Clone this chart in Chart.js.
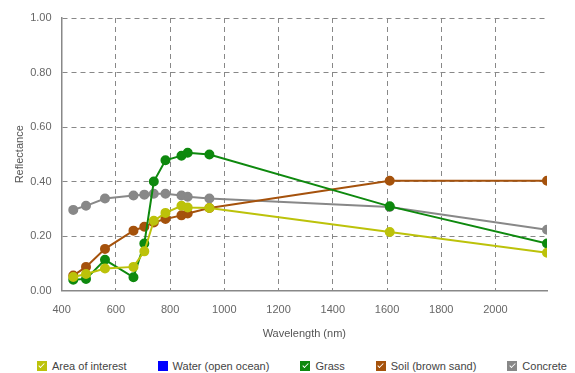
<!DOCTYPE html>
<html>
<head>
<meta charset="utf-8">
<script src="https://cdn.jsdelivr.net/npm/chart.js@4.4.1/dist/chart.umd.min.js"></script>
<style>
  html, body { margin: 0; padding: 0; background: #fff; overflow: hidden; }
  #wrap { position: relative; width: 575px; height: 345px; }
  #legend { position: absolute; left: 37px; top: 359px; display: flex; font: 11px "Liberation Sans", Arial, sans-serif; color: #444; white-space: nowrap; line-height: 14px; }
  .lg-item { display: flex; align-items: center; margin-right: 31px; cursor: pointer; }
  .lg-box { width: 10px; height: 10px; margin-right: 5px; position: relative; }
  .lg-box.on::after { content: ''; position: absolute; left: 3.2px; top: 0.8px; width: 2.2px; height: 5px; border: solid #fff; border-width: 0 1.5px 1.5px 0; transform: rotate(45deg); }
</style>
</head>
<body>
<div id="wrap"><canvas id="spectra"></canvas></div>
<div id="legend"></div>
<script>
//Sentinel-2 band centres (nm)
var wavelengths = [443, 490, 560, 665, 705, 740, 783, 842, 865, 945, 1610, 2190];

//Reflectance per band
var areaOfInterest = [0.050, 0.061, 0.081, 0.087, 0.144, 0.256, 0.285, 0.311, 0.305, 0.303, 0.215, 0.139];
var water = []; //switched off in the legend, nothing drawn
var grass = [0.040, 0.043, 0.113, 0.049, 0.173, 0.400, 0.478, 0.495, 0.506, 0.499, 0.309, 0.173];
var soil = [0.055, 0.087, 0.153, 0.220, 0.234, 0.250, 0.263, 0.276, 0.283, 0.303, 0.403, 0.403];
var concrete = [0.296, 0.311, 0.338, 0.349, 0.352, 0.355, 0.355, 0.349, 0.344, 0.338, 0.307, 0.223];

var names = ['Area of interest', 'Water (open ocean)', 'Grass', 'Soil (brown sand)', 'Concrete'];
var colors = ['#bcc20a', '#0000ff', '#0e890e', '#a5520c', '#888888'];
var series = [areaOfInterest, water, grass, soil, concrete];
var hiddenFlags = [false, true, false, false, false];

var xTicks = [400, 600, 800, 1000, 1200, 1400, 1600, 1800, 2000];

var font = { family: '"Liberation Sans", Arial, sans-serif', size: 11 };
var gridStyle = { color: '#888', lineWidth: 1, drawTicks: false, tickLength: 0 };

var datasets = series.map(function (values, i) {
    return {
        label: names[i],
        data: values.map(function (v, k) { return { x: wavelengths[k], y: v }; }),
        borderColor: colors[i],
        backgroundColor: colors[i],
        pointBackgroundColor: colors[i],
        pointBorderColor: colors[i],
        borderWidth: 2,
        pointRadius: 4,
        pointHoverRadius: 5,
        tension: 0,
        hidden: hiddenFlags[i]
    };
});

var ctx = document.getElementById('spectra').getContext('2d');
var chart = new Chart(ctx, {
    type: 'line',
    data: { datasets: datasets },
    options: {
        responsive: true,
        maintainAspectRatio: false,
        animation: false,
        layout: { padding: { left: 6, right: 28, top: 18, bottom: 0 } },
        plugins: {
            legend: { display: false }
        },
        scales: {
            x: {
                type: 'linear',
                min: 400,
                max: 2190,
                afterBuildTicks: function (scale) {
                    scale.ticks = xTicks.map(function (v) { return { value: v }; });
                },
                ticks: { font: font, color: '#666', padding: 13,
                    callback: function (v) { return String(v); } },
                grid: gridStyle,
                border: { display: true, color: '#888', width: 1.5, dash: [5, 4] },
                title: { display: true, text: 'Wavelength (nm)', font: font, color: '#555', padding: { top: -2, bottom: 4 } }
            },
            y: {
                min: 0,
                max: 1,
                ticks: { stepSize: 0.2, font: font, color: '#666', padding: 10,
                    callback: function (v) { return v.toFixed(2); } },
                grid: gridStyle,
                border: { display: true, color: '#888', width: 1.5, dash: [5, 4] },
                title: { display: true, text: 'Reflectance', font: font, color: '#555', padding: { top: 7, bottom: -6 } }
            }
        }
    }
});

//HTML legend with check boxes
var legend = document.getElementById('legend');
function drawLegend() {
    legend.innerHTML = '';
    chart.data.datasets.forEach(function (ds, i) {
        var item = document.createElement('div');
        item.className = 'lg-item';
        var on = chart.isDatasetVisible(i);
        item.innerHTML = '<span class="lg-box' + (on ? ' on' : '') + '" style="background:' + ds.borderColor + '"></span>' + ds.label;
        item.onclick = function () {
            chart.setDatasetVisibility(i, !chart.isDatasetVisible(i));
            chart.update();
            drawLegend();
        };
        legend.appendChild(item);
    });
}
drawLegend();
</script>
</body>
</html>
